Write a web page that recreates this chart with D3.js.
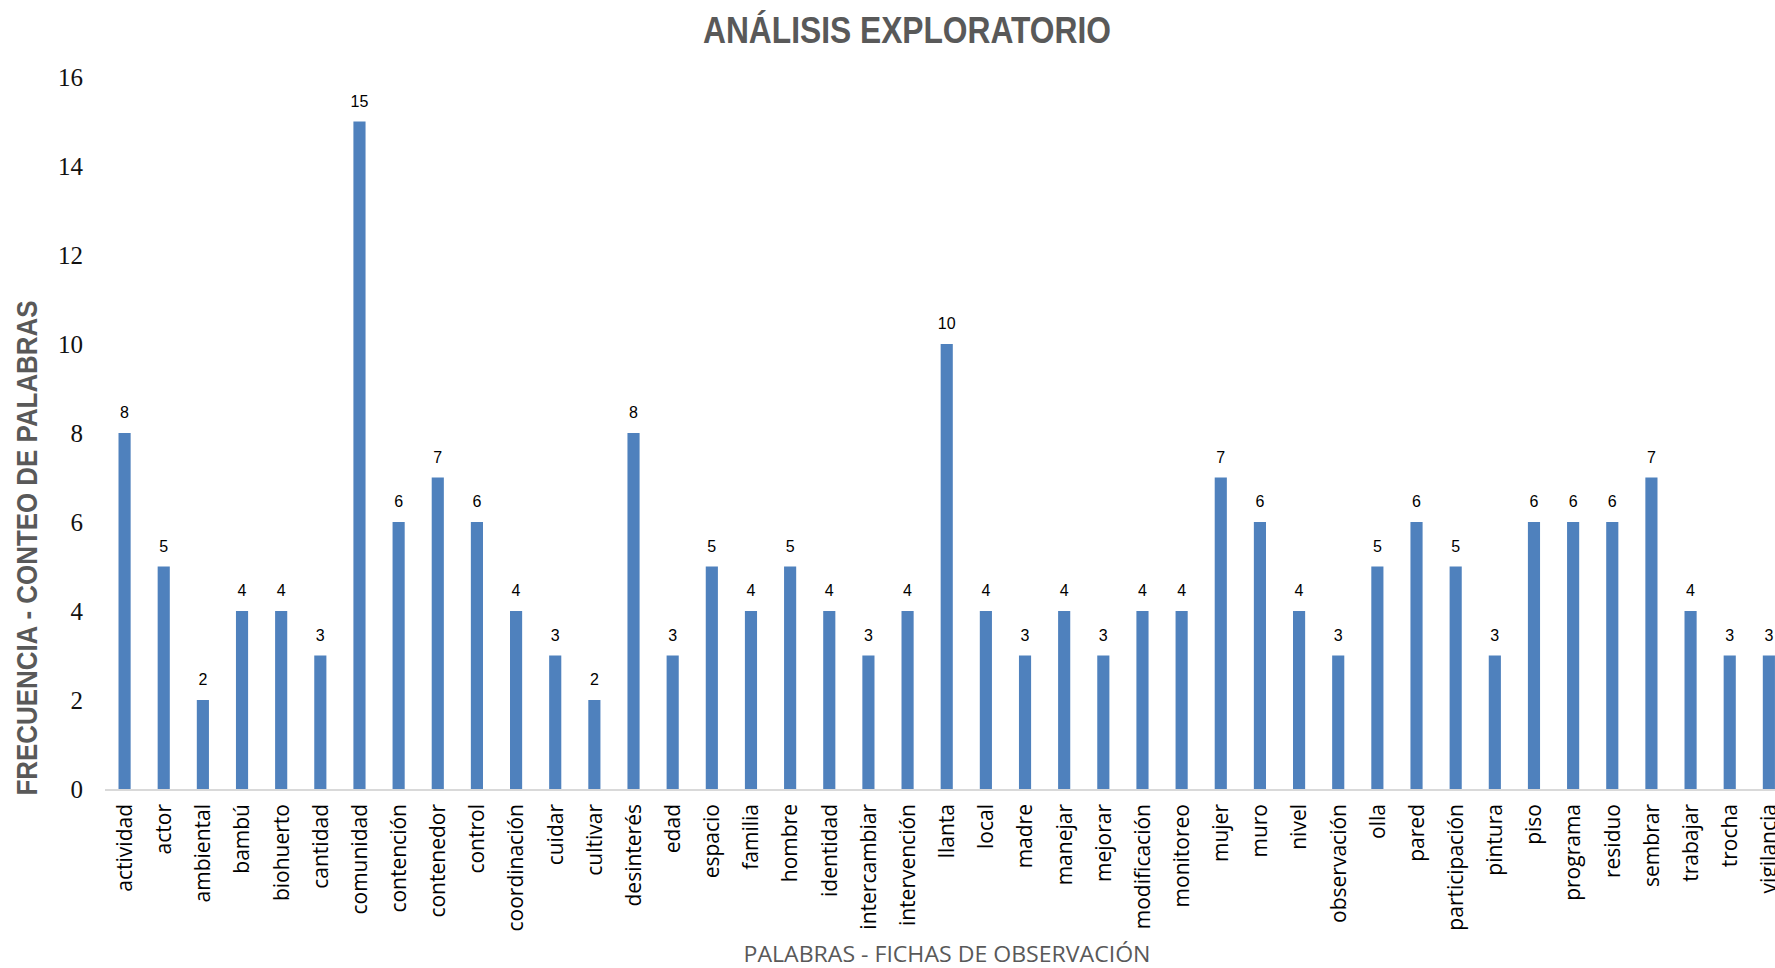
<!DOCTYPE html>
<html>
<head>
	<meta charset="utf-8" />
	<title>análisis exploratorio</title>
	<script src="https://cdn.jsdelivr.net/npm/d3@7"></script>
	<style>
	body { margin: 0; background: #fff; }
	.bar { fill: #4f81bd; }
	.val { font: 16px "Liberation Sans", Arial, sans-serif; fill: #000; }
	.ytick { font: 25px "Liberation Serif", "Times New Roman", serif; fill: #111; }
	.xlab { font: 21px "Open Sans", sans-serif; fill: #000; }
	</style>
</head>
<body>

<div id="chart"></div>

<script>

// words and their counts
const palabras = ["actividad", "actor", "ambiental", "bambú", "biohuerto", "cantidad", "comunidad",
	"contención", "contenedor", "control", "coordinación", "cuidar", "cultivar", "desinterés", "edad",
	"espacio", "familia", "hombre", "identidad", "intercambiar", "intervención", "llanta", "local",
	"madre", "manejar", "mejorar", "modificación", "monitoreo", "mujer", "muro", "nivel", "observación",
	"olla", "pared", "participación", "pintura", "piso", "programa", "residuo", "sembrar", "trabajar",
	"trocha", "vigilancia"];
const conteo = [8, 5, 2, 4, 4, 3, 15, 6, 7, 6, 4, 3, 2, 8, 3, 5, 4, 5, 4, 3, 4, 10, 4, 3, 4, 3, 4, 4,
	7, 6, 4, 3, 5, 6, 5, 3, 6, 6, 6, 7, 4, 3, 3];
const y_ticks = [0, 2, 4, 6, 8, 10, 12, 14, 16];

const titulo = "ANÁLISIS EXPLORATORIO";
const titulo_y = "FRECUENCIA - CONTEO DE PALABRAS";
const titulo_x = "PALABRAS - FICHAS DE OBSERVACIÓN";

let width = 1775, height = 968;
// plot area runs past the right edge, like the original screenshot
const x0 = 105, step = 39.15;
const y_base = 789, y_top = 77;

let svg = d3.select("#chart").append("svg")
	.attr("width", width)
	.attr("height", height);

let x = d3.scaleBand()
	.domain(palabras)
	.range([x0, x0 + step * palabras.length])
	.paddingInner(0.69)
	.paddingOuter(0.345);

let y = d3.scaleLinear()
	.domain([0, 16])
	.range([y_base, y_top]);

// y axis labels (no line, no ticks)
svg.append("g")
	.selectAll("text")
	.data(y_ticks)
	.enter().append("text")
	.attr("class", "ytick")
	.attr("x", 83)
	.attr("y", d => y(d))
	.attr("dy", "0.35em")
	.attr("text-anchor", "end")
	.text(d => d);

// bars
svg.append("g")
	.selectAll("rect")
	.data(conteo)
	.enter().append("rect")
	.attr("class", "bar")
	.attr("x", (d, i) => x(palabras[i]))
	.attr("width", x.bandwidth())
	.attr("y", d => y(d))
	.attr("height", d => y(0) - y(d));

// value labels
svg.append("g")
	.selectAll("text")
	.data(conteo)
	.enter().append("text")
	.attr("class", "val")
	.attr("x", (d, i) => x(palabras[i]) + x.bandwidth() / 2)
	.attr("y", d => y(d) - 15)
	.attr("text-anchor", "middle")
	.text(d => d);

// baseline
svg.append("line")
	.attr("x1", x0)
	.attr("x2", width)
	.attr("y1", y(0) + 1)
	.attr("y2", y(0) + 1)
	.attr("stroke", "#d9d9d9")
	.attr("stroke-width", 2);

// category labels, vertical
svg.append("g")
	.selectAll("text")
	.data(palabras)
	.enter().append("text")
	.attr("class", "xlab")
	.attr("transform", d => "translate(" + (x(d) + x.bandwidth() / 2) + "," + 804 + ") rotate(-90)")
	.attr("dy", "0.35em")
	.attr("text-anchor", "end")
	.text(d => d);

// titles
svg.append("text")
	.attr("x", 907)
	.attr("y", 43)
	.attr("text-anchor", "middle")
	.attr("textLength", 408)
	.attr("lengthAdjust", "spacingAndGlyphs")
	.style("font", "bold 37px 'Liberation Sans', Arial, sans-serif")
	.style("fill", "#595959")
	.text(titulo);

svg.append("text")
	.attr("transform", "translate(37," + 548 + ") rotate(-90)")
	.attr("text-anchor", "middle")
	.attr("textLength", 495)
	.attr("lengthAdjust", "spacingAndGlyphs")
	.style("font", "bold 29px 'Liberation Sans', Arial, sans-serif")
	.style("fill", "#595959")
	.text(titulo_y);

svg.append("text")
	.attr("x", 947)
	.attr("y", 962)
	.attr("text-anchor", "middle")
	.attr("textLength", 407)
	.attr("lengthAdjust", "spacingAndGlyphs")
	.style("font", "21px 'Open Sans', sans-serif")
	.style("fill", "#595959")
	.text(titulo_x);

</script>

</body>
</html>
